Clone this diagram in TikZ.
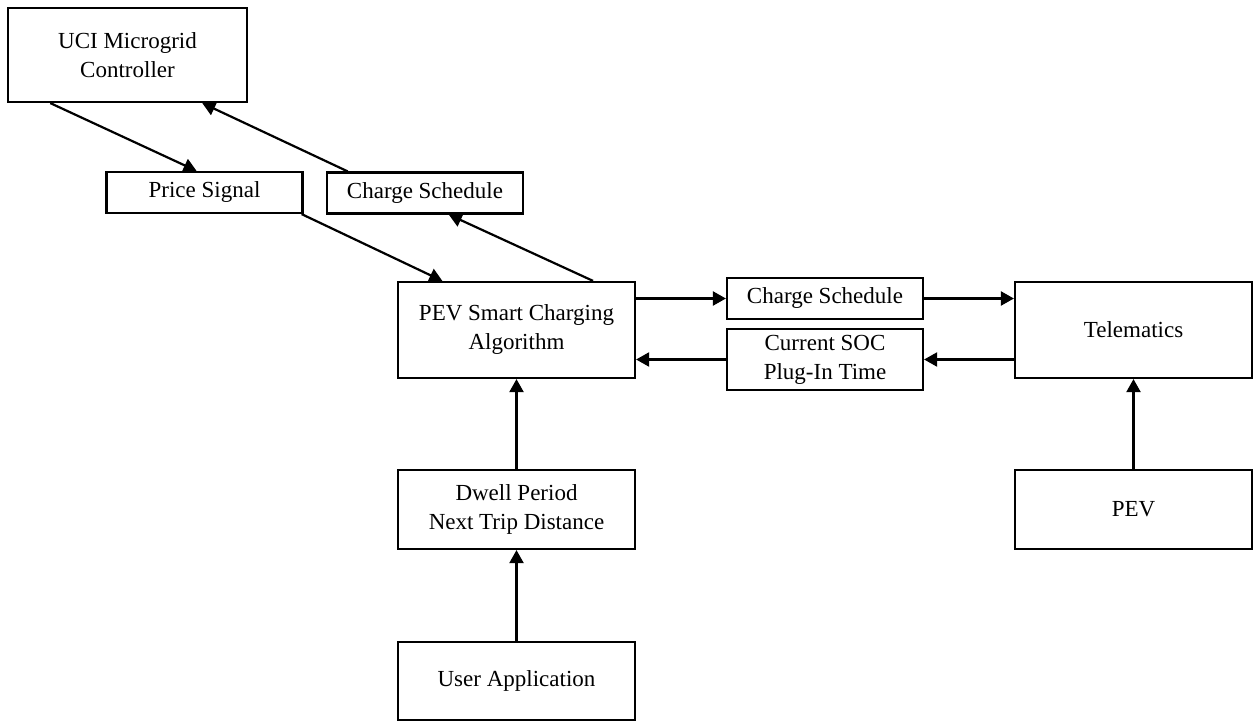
\documentclass[tikz,border=0pt]{standalone}
\usepackage{fontspec}
\setmainfont{Liberation Serif}
\usetikzlibrary{calc,arrows.meta}
\begin{document}
\begin{tikzpicture}[x=0.5pt,y=-0.5pt,
    blk/.style={draw,line width=1.1pt,align=center,inner sep=0pt,font=\fontsize{11.5}{14.5}\selectfont},
    wide/.style={blk,minimum width=118.5pt,minimum height=48pt},
    tag/.style={blk,minimum width=98pt,minimum height=20.5pt},
    arr/.style={-{Triangle[length=6.5pt,width=7pt]},line width=1.1pt}]
    \useasboundingbox (0,0) rectangle (1253,722);
    % boxes
    \node[blk,minimum width=119.5pt,minimum height=47pt] (uci) at (127.5,55) {UCI Microgrid\\Controller};
    \node[tag] (price) at (204.5,192.5) {Price Signal};
    \node[tag] (schedup) at (425,193) {Charge Schedule};
    \node[wide] (algo) at (516.5,330) {PEV Smart Charging\\Algorithm};
    \node[tag] (schedrt) at (825,298.5) {Charge Schedule};
    \node[tag,minimum height=30.5pt] (soc) at (825,359.5) {Current SOC\\Plug-In Time};
    \node[wide] (tele) at (1133.5,330) {Telematics};
    \node[wide,minimum height=39.5pt] (pev) at (1133.5,509.5) {PEV};
    \node[wide,minimum height=39.5pt] (dwell) at (516.5,509.5) {Dwell Period\\Next Trip Distance};
    \node[wide,minimum height=39pt] (user) at (516.5,681) {User Application};
    % links
    \draw[arr] ($(uci.south west)!0.18!(uci.south east)$) -- ($(price.north west)!0.46!(price.north east)$);
    \draw[arr] ($(schedup.north west)!0.11!(schedup.north east)$) -- ($(uci.south west)!0.81!(uci.south east)$);
    \draw[arr] ($(price.south west)!0.99!(price.south east)$) -- ($(algo.north west)!0.19!(algo.north east)$);
    \draw[arr] ($(algo.north west)!0.82!(algo.north east)$) -- ($(schedup.south west)!0.62!(schedup.south east)$);
    \draw[arr] (algo.east |- schedrt.west) -- (schedrt.west);
    \draw[arr] (schedrt.east) -- (schedrt.east -| tele.west);
    \draw[arr] (tele.west |- soc.east) -- (soc.east);
    \draw[arr] (soc.west) -- (soc.west -| algo.east);
    \draw[arr] (pev) -- (tele);
    \draw[arr] (dwell) -- (algo);
    \draw[arr] (user) -- (dwell);
\end{tikzpicture}
\end{document}
